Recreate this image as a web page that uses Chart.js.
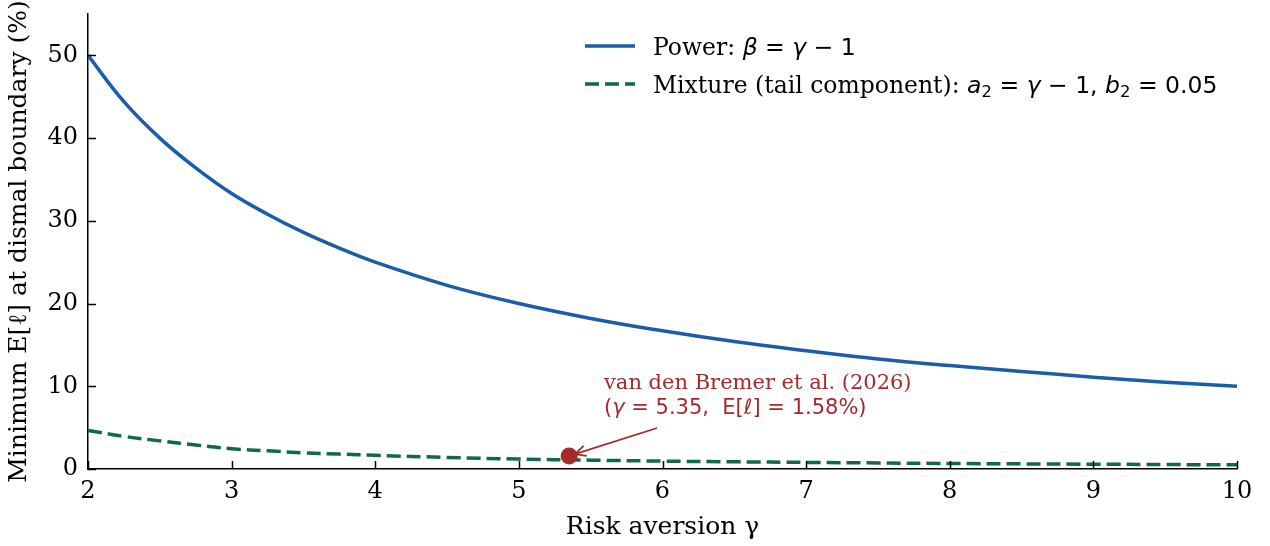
<!DOCTYPE html>
<html>
<head>
<meta charset="utf-8">
<script src="https://cdn.jsdelivr.net/npm/chart.js@4.4.0/dist/chart.umd.min.js"></script>
<style>
  html, body { margin: 0; padding: 0; background: #fff; }
  #wrap { width: 1270px; height: 546px; position: relative; }
</style>
</head>
<body>
<div id="wrap"><canvas id="chart" width="1270" height="546"></canvas></div>
<script>
// risk aversion grid (x) and curves
const gammaVals = [2, 2.25, 2.5, 2.75, 3, 3.25, 3.5, 3.75, 4, 4.5, 5, 5.5, 6, 6.5, 7, 7.5, 8, 8.5, 9, 9.5, 10];
const powerVals = [50, 44.4, 40, 36.4, 33.3, 30.8, 28.6, 26.7, 25, 22.2, 20, 18.2, 16.7, 15.4, 14.3, 13.3, 12.5, 11.8, 11.1, 10.5, 10];
const mixtureVals = [4.67, 3.95, 3.4, 2.9, 2.45, 2.2, 1.95, 1.8, 1.65, 1.4, 1.2, 1.07, 0.95, 0.87, 0.8, 0.73, 0.67, 0.62, 0.58, 0.54, 0.5];
const xTicks = [2, 3, 4, 5, 6, 7, 8, 9, 10];
const yTicks = [0, 10, 20, 30, 40, 50];
const markGamma = 5.35;
const markLoss = 1.58;

const BLUE = "#1a5ea8";
const GREEN = "#10694f";
const RED = "#a52a2a";
const SERIF = "'DejaVu Serif', serif";
const SANS = "'DejaVu Sans', sans-serif";

function toPoints(xs, ys) {
  return xs.map((x, i) => ({ x: x, y: ys[i] }));
}

// draw a row of text pieces with different fonts
function drawRuns(ctx, x, y, runs, color) {
  ctx.fillStyle = color;
  ctx.textBaseline = "alphabetic";
  ctx.textAlign = "left";
  for (const r of runs) {
    ctx.font = r.font;
    ctx.fillText(r.t, x, y + (r.dy || 0));
    x += ctx.measureText(r.t).width;
  }
}

const extras = {
  id: "extras",
  afterDraw(chart) {
    const ctx = chart.ctx;
    const xs = chart.scales.x, ys = chart.scales.y;
    const area = chart.chartArea;
    ctx.save();

    // inward ticks
    ctx.strokeStyle = "#000";
    ctx.lineWidth = 1.5;
    ctx.beginPath();
    for (const t of xTicks) {
      const px = Math.round(xs.getPixelForValue(t)) + 0.5;
      ctx.moveTo(px, area.bottom);
      ctx.lineTo(px, area.bottom - 8);
    }
    for (const t of yTicks) {
      const py = Math.round(ys.getPixelForValue(t)) + 0.5;
      ctx.moveTo(area.left, py);
      ctx.lineTo(area.left + 8, py);
    }
    ctx.stroke();

    // annotation marker
    const mx = xs.getPixelForValue(markGamma);
    const my = ys.getPixelForValue(markLoss);
    ctx.fillStyle = RED;
    ctx.beginPath();
    ctx.arc(mx, my, 8.5, 0, Math.PI * 2);
    ctx.fill();

    // arrow
    const sx = 657, sy = 428;
    const ang = Math.atan2(my - sy, mx - sx);
    const ex = mx - Math.cos(ang) * 6, ey = my - Math.sin(ang) * 6;
    ctx.strokeStyle = RED;
    ctx.lineWidth = 1.8;
    ctx.beginPath();
    ctx.moveTo(sx, sy);
    ctx.lineTo(ex, ey);
    ctx.moveTo(ex - 12 * Math.cos(ang - 0.45), ey - 12 * Math.sin(ang - 0.45));
    ctx.lineTo(ex, ey);
    ctx.lineTo(ex - 12 * Math.cos(ang + 0.45), ey - 12 * Math.sin(ang + 0.45));
    ctx.stroke();

    drawRuns(ctx, 604, 389, [{ t: "van den Bremer et al. (2026)", font: "21px " + SERIF }], RED);
    drawRuns(ctx, 604, 414, [
      { t: "(", font: "21px " + SANS },
      { t: "γ", font: "italic 21px " + SANS },
      { t: " = 5.35,  E[", font: "21px " + SANS },
      { t: "ℓ", font: "italic 21px " + SANS },
      { t: "] = 1.58%)", font: "21px " + SANS }
    ], RED);

    // legend
    ctx.lineWidth = 3.5;
    ctx.strokeStyle = BLUE;
    ctx.setLineDash([]);
    ctx.beginPath();
    ctx.moveTo(585, 46);
    ctx.lineTo(635, 46);
    ctx.stroke();
    ctx.strokeStyle = GREEN;
    ctx.setLineDash([14, 6]);
    ctx.beginPath();
    ctx.moveTo(585, 84);
    ctx.lineTo(635, 84);
    ctx.stroke();
    ctx.setLineDash([]);

    const F = "23.5px ";
    drawRuns(ctx, 653, 55, [
      { t: "Power: ", font: F + SERIF },
      { t: "β", font: "italic " + F + SANS },
      { t: " = ", font: F + SANS },
      { t: "γ", font: "italic " + F + SANS },
      { t: " − 1", font: F + SANS }
    ], "#000");
    drawRuns(ctx, 653, 93, [
      { t: "Mixture (tail component): ", font: F + SERIF },
      { t: "a", font: "italic " + F + SANS },
      { t: "2", font: "16.5px " + SANS, dy: 4 },
      { t: " = ", font: F + SANS },
      { t: "γ", font: "italic " + F + SANS },
      { t: " − 1, ", font: F + SANS },
      { t: "b", font: "italic " + F + SANS },
      { t: "2", font: "16.5px " + SANS, dy: 4 },
      { t: " = 0.05", font: F + SANS }
    ], "#000");

    ctx.restore();
  }
};

new Chart(document.getElementById("chart"), {
  type: "scatter",
  data: {
    datasets: [
      {
        label: "Power",
        data: toPoints(gammaVals, powerVals),
        showLine: true,
        borderColor: BLUE,
        borderWidth: 3.5,
        pointRadius: 0,
        tension: 0.4
      },
      {
        label: "Mixture",
        data: toPoints(gammaVals, mixtureVals),
        showLine: true,
        borderColor: GREEN,
        borderWidth: 3.5,
        borderDash: [14, 6],
        pointRadius: 0,
        tension: 0.4
      }
    ]
  },
  plugins: [extras],
  options: {
    responsive: false,
    animation: false,
    layout: { padding: { top: 14, right: 33, left: 0, bottom: 0 } },
    plugins: { legend: { display: false }, tooltip: { enabled: false } },
    scales: {
      x: {
        type: "linear",
        min: 2, max: 10,
        afterFit: s => { s.height = 77; s.paddingLeft = 0; s.paddingRight = 0; },
        afterBuildTicks: s => { s.ticks = xTicks.map(v => ({ value: v })); },
        grid: { display: false, drawTicks: false },
        border: { display: true, color: "#000", width: 1.5 },
        ticks: { color: "#000", padding: 8, font: { family: SERIF, size: 24 }, maxRotation: 0 },
        title: { display: true, text: "Risk aversion γ", color: "#000", font: { family: SERIF, size: 25 }, padding: { top: 0 } }
      },
      y: {
        type: "linear",
        min: 0, max: 55,
        afterFit: s => { s.width = 88; s.paddingTop = 0; s.paddingBottom = 0; },
        afterBuildTicks: s => { s.ticks = yTicks.map(v => ({ value: v })); },
        grid: { display: false, drawTicks: false },
        border: { display: true, color: "#000", width: 1.5 },
        ticks: { color: "#000", padding: 10, font: { family: SERIF, size: 24 } },
        title: { display: true, text: "Minimum E[ℓ] at dismal boundary (%)", color: "#000", font: { family: SERIF, size: 25 }, padding: { bottom: 0, top: 4 } }
      }
    }
  }
});
</script>
</body>
</html>
